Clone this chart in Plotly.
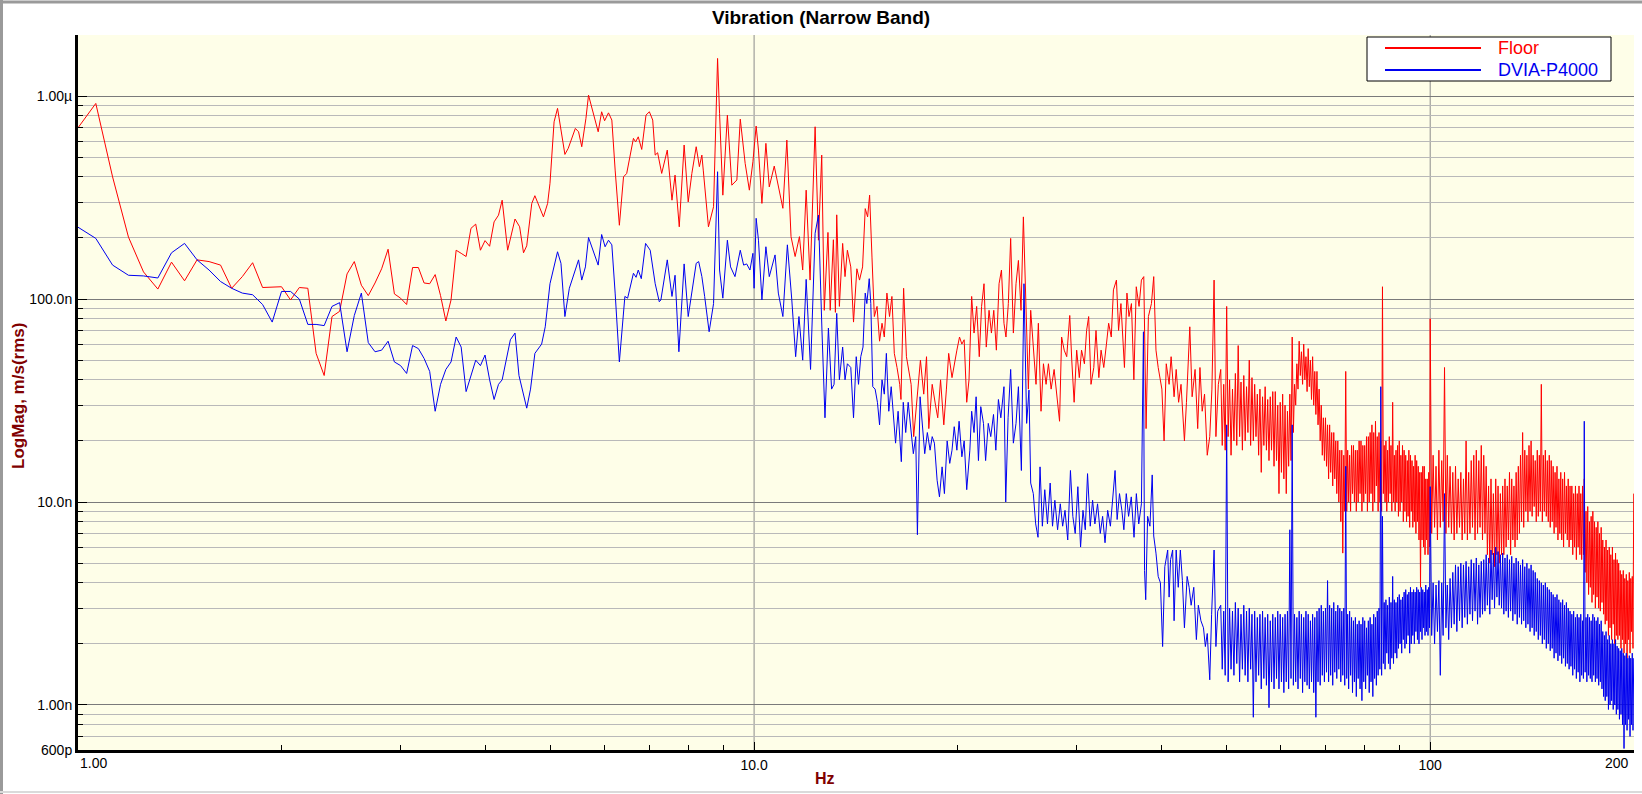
import numpy as np
import plotly.graph_objects as go

# analyser bin spacing (Hz) for the evenly sampled stretches
BIN_LOW = 0.0625
BIN_HI_A = 0.25
BIN_HI_B = 0.5

# all magnitudes below are in nm/s (rms); scaled at the end

# 1.00 .. 4.19 Hz, every bin
floor_low = [698, 920, 400, 202, 136, 112, 152, 123, 156, 153,
             147, 113, 129, 151, 114, 115, 115, 99, 114, 113,
             54, 42, 82, 87, 133, 153, 117, 104, 120, 141,
             176, 106, 101, 94, 143, 143, 120, 119, 132, 104,
             78, 99, 174, 168, 162, 223, 234, 174, 194, 182,
             240, 259]
dvia_low = [226, 199, 147, 131, 130, 127, 169, 188, 156, 139,
            122, 113, 107, 105, 94, 77, 109, 109, 100, 75,
            75, 74, 92, 96, 55, 83, 107, 61, 55, 56,
            62, 49, 47, 43, 59, 57, 51, 44, 28, 38,
            45, 49, 65, 58, 35, 42, 50, 47, 53, 40,
            32, 38]

# 4.2 .. 13.3 Hz, peaks and troughs
floor_mid_f = [4.24, 4.32, 4.43, 4.50, 4.56, 4.61, 4.69, 4.74, 4.88, 4.95,
               4.99, 5.06, 5.12, 5.25, 5.31, 5.44, 5.50, 5.56, 5.64, 5.69,
               5.77, 5.88, 5.95, 6.01, 6.09, 6.16, 6.23, 6.32, 6.41, 6.48,
               6.63, 6.68, 6.74, 6.82, 6.92, 7.00, 7.08, 7.14, 7.20, 7.30,
               7.44, 7.56, 7.64, 7.75, 7.88, 7.99, 8.09, 8.21, 8.30, 8.37,
               8.41, 8.56, 8.71, 8.83, 8.89, 8.99, 9.13, 9.27, 9.43, 9.54,
               9.70, 9.84, 9.96, 10.07, 10.15, 10.27, 10.41, 10.53, 10.71, 10.86,
               11.03, 11.18, 11.34, 11.50, 11.67, 11.80, 11.94, 12.10, 12.31, 12.45,
               12.59, 12.70, 12.86, 12.96, 13.10, 13.19, 13.25]
floor_mid = [307, 174, 248, 227, 169, 183, 296, 323, 254, 296,
             372, 747, 870, 516, 553, 693, 667, 563, 777, 1011,
             837, 667, 837, 756, 827, 762, 432, 231, 400, 416,
             619, 595, 630, 546, 806, 837, 762, 512, 526, 416,
             542, 307, 408, 227, 574, 301, 416, 563, 449, 512,
             432, 227, 285, 1533, 822, 325, 806, 364, 386, 770,
             466, 344, 475, 712, 542, 296, 585, 357, 452, 357,
             280, 607, 203, 162, 203, 139, 344, 124, 706, 195,
             512, 88, 213, 88, 196, 86, 260]

dvia_mid_f = [4.24, 4.36, 4.43, 4.49, 4.56, 4.61, 4.67, 4.74, 4.85, 4.91,
              4.99, 5.12, 5.18, 5.25, 5.33, 5.50, 5.56, 5.63, 5.69, 5.79,
              5.88, 5.95, 6.02, 6.09, 6.16, 6.23, 6.32, 6.44, 6.50, 6.63,
              6.69, 6.74, 6.81, 6.91, 7.02, 7.14, 7.24, 7.28, 7.44, 7.56,
              7.64, 7.74, 7.88, 7.99, 8.09, 8.21, 8.28, 8.37, 8.45, 8.58,
              8.71, 8.83, 8.89, 8.99, 9.13, 9.23, 9.37, 9.54, 9.65, 9.75,
              9.86, 9.96, 10.00, 10.07, 10.15, 10.27, 10.41, 10.53, 10.74, 10.86,
              11.03, 11.20, 11.37, 11.52, 11.65, 11.80, 11.94, 12.12, 12.31, 12.45,
              12.60, 12.73, 12.88, 13.02, 13.13, 13.25]
dvia_mid = [40, 63, 68, 42, 34, 29, 36, 54, 60, 73,
            119, 171, 150, 82, 113, 156, 124, 144, 201, 168,
            147, 208, 181, 195, 185, 107, 49, 103, 101, 134,
            128, 139, 126, 188, 174, 119, 97, 99, 156, 103,
            131, 55, 149, 82, 111, 150, 153, 129, 103, 69,
            95, 424, 139, 101, 195, 144, 129, 174, 147, 149,
            139, 168, 113, 250, 195, 99, 181, 129, 165, 107,
            82, 185, 99, 52, 82, 50, 125, 45, 211, 259,
            70, 26, 72, 36, 38, 85]

# 13.4 .. 48.6 Hz
floor_c_f = [13.37, 13.52, 13.63, 13.74, 13.90, 14.03, 14.19, 14.32, 14.47, 14.60,
             14.72, 14.82, 14.94, 15.06, 15.20, 15.33, 15.46, 15.58, 15.72, 15.86,
             15.99, 16.12, 16.27, 16.42, 16.49, 16.64, 16.80, 16.93, 17.07, 17.22,
             17.42, 17.62, 17.82, 17.99, 18.13, 18.34, 18.55, 18.69, 18.87, 19.08,
             19.25, 19.40, 19.62, 19.77, 19.95, 20.13, 20.29, 20.45, 20.63, 20.79,
             20.98, 21.15, 21.34, 21.53, 21.70, 21.88, 22.05, 22.26, 22.44, 22.62,
             22.82, 23.03, 23.22, 23.42, 23.58, 23.77, 23.96, 24.18, 24.40, 24.60,
             24.82, 25.02, 25.25, 25.45, 25.65, 25.89, 26.12, 26.33, 26.57, 26.79,
             27.03, 27.25, 27.50, 27.78, 28.00, 28.30, 28.50, 28.75, 29.00, 29.30,
             29.50, 29.74, 30.00, 30.27, 30.50, 30.80, 31.03, 31.25, 31.50, 31.80,
             32.04, 32.35, 32.60, 32.90, 33.20, 33.45, 33.75, 34.00, 34.35, 34.60,
             34.88, 35.10, 35.30, 35.60, 35.85, 36.15, 36.45, 36.75, 37.10, 37.40,
             37.70, 38.00, 38.30, 38.70, 39.00, 39.30, 39.60, 40.10, 40.40, 40.70,
             41.10, 41.38, 41.80, 42.10, 42.45, 42.80, 43.30, 43.60, 44.10, 44.45,
             44.90, 45.30, 45.65, 46.00, 46.37, 46.80, 47.20, 47.55, 47.90, 48.20,
             48.60]
floor_c = [92, 188, 129, 174, 144, 77, 141, 124, 144, 279,
           254, 325, 161, 82, 92, 62, 76, 65, 107, 82,
           103, 54, 46, 38, 32, 113, 52, 45, 38, 21,
           32, 50, 34, 52, 23, 38, 30, 26, 40, 24,
           36, 54, 41, 48, 56, 65, 60, 63, 31, 40,
           103, 68, 92, 52, 92, 119, 58, 88, 68, 88,
           56, 119, 139, 76, 65, 95, 199, 68, 119, 155,
           88, 254, 82, 36, 88, 56, 38, 76, 28, 48,
           38, 48, 36, 45, 36, 25, 65, 56, 52, 83,
           50, 31, 56, 41, 56, 48, 70, 82, 38, 46,
           70, 41, 56, 46, 60, 76, 65, 111, 124, 70,
           95, 65, 46, 107, 82, 95, 40, 115, 92, 124,
           129, 23, 82, 95, 129, 56, 46, 36, 20, 48,
           38, 52, 33, 45, 31, 38, 20, 31, 73, 33,
           45, 23, 46, 28, 34, 17, 21, 36, 124, 21,
           38]

dvia_c_f = [13.37, 13.52, 13.63, 13.74, 13.90, 14.03, 14.16, 14.27, 14.38, 14.49,
            14.60, 14.68, 14.80, 14.88, 14.98, 15.10, 15.22, 15.33, 15.46, 15.58,
            15.69, 15.82, 15.95, 16.10, 16.19, 16.33, 16.51, 16.62, 16.76, 16.90,
            17.05, 17.20, 17.34, 17.44, 17.60, 17.74, 17.88, 18.04, 18.21, 18.34,
            18.48, 18.65, 18.80, 18.97, 19.12, 19.30, 19.47, 19.62, 19.77, 19.95,
            20.10, 20.29, 20.45, 20.63, 20.85, 20.98, 21.15, 21.30, 21.47, 21.64,
            21.84, 22.00, 22.20, 22.39, 22.60, 22.78, 22.98, 23.17, 23.42, 23.56,
            23.75, 23.96, 24.18, 24.40, 24.60, 24.85, 25.07, 25.30, 25.50, 25.65,
            25.88, 26.09, 26.30, 26.48, 26.69, 26.91, 27.16, 27.41, 27.63, 27.85,
            28.11, 28.37, 28.60, 28.83, 29.10, 29.37, 29.61, 29.85, 30.12, 30.40,
            30.65, 30.89, 31.13, 31.42, 31.67, 31.92, 32.21, 32.51, 32.77, 33.04,
            33.34, 33.65, 33.92, 34.19, 34.43, 34.71, 34.99, 35.23, 35.52, 35.80,
            36.13, 36.47, 36.76, 37.06, 37.40, 37.66, 37.80, 37.95, 38.20, 38.50,
            38.80, 39.00, 39.30, 39.60, 39.90, 40.20, 40.50, 40.90, 41.10, 41.30,
            41.60, 41.80, 42.10, 42.40, 42.70, 43.00, 43.30, 43.70, 44.00, 44.30,
            44.70, 45.10, 45.40, 45.80, 46.20, 46.50, 46.80, 47.20, 47.50, 47.90,
            48.20, 48.50]
dvia_c = [40, 58, 40, 48, 46, 26, 52, 38, 52, 58,
          107, 95, 126, 95, 37, 36, 31, 24, 40, 34,
          54, 28, 37, 26, 19.5, 28, 15.8, 31, 22, 31,
          23.5, 17.3, 21, 6.9, 33, 24.4, 17.3, 22, 18, 21,
          19.5, 12.8, 10.6, 14.9, 11, 20, 15.5, 18, 23.5, 18,
          25, 16.7, 20, 11.5, 18, 28, 22, 33, 16, 29.5,
          24.4, 16, 24.4, 21, 27, 18, 32, 26, 37, 10,
          26, 45, 19.5, 24.4, 37, 14.3, 119, 24.4, 35.6, 12.4,
          11, 7.8, 6.7, 14.9, 7.6, 11.5, 7.8, 12.4, 7.6, 10.2,
          7.3, 9.8, 7.6, 9.1, 6.5, 14.3, 8.5, 7.0, 11.9, 6.0,
          9.1, 7.3, 13.8, 7.6, 10.2, 7.8, 9.8, 7.0, 8.5, 6.3,
          9.1, 7.6, 10.6, 14.3, 8.2, 11, 9.1, 7.3, 11, 8.5,
          10.6, 6.7, 11, 7.8, 9.8, 69, 4.6, 3.3, 8.5, 7.6,
          13.6, 6.8, 5.6, 4.3, 4.0, 1.94, 4.8, 5.8, 3.4, 5.2,
          5.8, 2.6, 5.8, 3.8, 5.8, 4.1, 2.4, 4.3, 3.8, 3.1,
          3.8, 2.1, 3.1, 2.6, 2.4, 1.94, 2.25, 1.33, 2.8, 5.8,
          1.94, 2.9]

# 49.00 .. 99.75 Hz: band tops on the half-Hz bins, band bottoms on the quarter bins
floor_hi_a_top = [45, 38, 92, 40, 36, 43, 59, 39, 42, 37,
                  50, 41, 38, 34, 36, 33, 37, 32, 33, 35,
                  35, 30, 31, 34, 30, 28, 34, 65, 38, 48,
                  62, 55, 60, 52, 57, 50, 52, 44, 44, 36,
                  30, 26, 26, 24, 24, 22, 22, 20, 20, 18,
                  18, 17, 44, 18, 17, 19, 19, 18, 18, 20,
                  20, 19, 19, 21, 21, 22, 24, 22, 25, 21,
                  22, 20, 115, 19, 20, 18, 21, 19, 31, 17,
                  18, 19, 20, 17, 19, 18, 17, 16, 18, 17,
                  16, 15, 17, 16, 15, 14, 14, 15, 15, 13,
                  13, 14]
floor_hi_a_bot = [19, 18, 21, 17, 20, 19, 21, 18, 20, 22,
                  19, 20, 21, 17, 14, 19, 18, 16, 18, 15,
                  16, 11, 14, 13, 11, 15, 16, 22, 30, 36,
                  42, 38, 40, 35, 37, 32, 30, 27, 24, 20,
                  17, 16, 15, 13, 14, 12, 13, 11, 10, 8,
                  5.6, 9, 9, 10, 9, 11, 10, 9, 10, 11,
                  9, 10, 11, 9, 10, 11, 9, 10, 12, 9,
                  10, 9, 11, 10, 9, 10, 11, 9, 10, 9,
                  10, 8.5, 9, 10, 8, 9, 8, 8.5, 7.5, 9,
                  7.5, 8, 7, 8, 6.5, 3.8, 6.5, 6, 5.5, 6.5,
                  5.5, 6]
dvia_hi_a_top = [3.1, 2.9, 24, 3.0, 2.9, 3.2, 3.0, 2.8, 3.1, 2.9,
                 3.0, 2.8, 2.9, 2.7, 2.8, 2.9, 2.7, 2.8, 2.6, 2.8,
                 2.7, 2.9, 2.8, 2.7, 2.8, 2.9, 7.3, 24, 2.8, 2.7,
                 2.9, 2.8, 2.7, 2.9, 2.8, 2.6, 2.8, 2.7, 2.9, 3.0,
                 3.1, 2.9, 3.0, 4.1, 3.1, 3.0, 3.2, 2.9, 3.1, 3.0,
                 2.9, 3.0, 15, 2.8, 2.9, 2.7, 2.6, 2.7, 2.5, 2.6,
                 2.5, 2.7, 2.6, 2.4, 2.6, 2.7, 2.5, 2.8, 2.7, 2.9,
                 3.0, 37, 8.5, 3.2, 3.3, 3.1, 3.4, 3.2, 4.3, 3.3,
                 3.2, 3.4, 3.5, 3.3, 3.4, 3.6, 3.7, 3.5, 3.6, 3.8,
                 3.6, 3.7, 3.6, 3.8, 3.7, 3.6, 3.8, 3.7, 3.6, 3.9,
                 3.7, 3.8]
dvia_hi_a_bot = [1.5, 1.4, 1.3, 1.5, 1.4, 1.6, 1.3, 1.5, 1.4, 1.3,
                 1.5, 0.87, 1.3, 1.4, 1.2, 1.35, 1.25, 0.97, 1.3, 1.2,
                 1.35, 1.2, 1.3, 1.15, 1.3, 1.2, 1.35, 1.25, 1.3, 1.2,
                 1.35, 1.15, 1.3, 1.25, 1.2, 1.3, 1.15, 0.87, 1.3, 1.25,
                 1.4, 1.3, 1.45, 1.3, 1.4, 1.25, 1.45, 1.35, 1.5, 1.3,
                 1.4, 1.25, 1.35, 1.2, 1.4, 1.15, 1.3, 1.1, 1.35, 1.2,
                 1.05, 1.3, 1.2, 1.4, 1.15, 1.3, 1.1, 1.35, 1.25, 1.4,
                 1.5, 1.4, 1.6, 1.5, 1.8, 1.6, 1.5, 1.7, 1.6, 1.8,
                 1.7, 1.9, 2.0, 1.8, 2.1, 1.9, 2.0, 2.2, 1.8, 2.0,
                 2.2, 2.0, 2.3, 2.1, 2.0, 2.3, 2.1, 2.4, 2.2, 2.3,
                 2.2, 2.4]

# 100 .. 200 Hz: band tops on whole Hz, band bottoms on the half-Hz bins
floor_hi_b_top = [80, 17, 15, 18, 16, 46, 17, 15, 14, 15,
                  13, 14, 13, 20, 14, 16, 17, 18, 16, 19,
                  17, 15, 12, 13, 11, 13, 12, 11, 12, 13,
                  12, 14, 13, 12, 14, 15, 17, 22, 18, 17,
                  19, 20, 17, 16, 18, 17, 38, 17, 18, 16,
                  17, 16, 15, 14, 15, 13, 14, 13, 14, 12,
                  13, 12, 12, 11, 12, 11, 12, 11, 12, 13,
                  9, 9.5, 8, 8.5, 9, 8, 7.5, 8, 7, 7.5,
                  6.5, 6, 6.5, 5.8, 6, 5.5, 6, 5.2, 5.6, 5.2,
                  5, 4.6, 4.4, 4.6, 4.2, 4.4, 4.1, 4.5, 4.2, 4.3,
                  11]
floor_hi_b_bot = [7, 7.5, 6.5, 7.5, 8, 7, 7.5, 7, 6.5, 7,
                  7.5, 6.5, 7, 6.5, 7, 7.5, 6.5, 7, 7.5, 6.5,
                  7, 5.5, 5, 5.5, 4.8, 5.5, 5, 5.5, 5.5, 6,
                  6.5, 5.5, 6.5, 6, 6.5, 7, 8, 7.5, 9, 8,
                  9, 8.5, 9.5, 8, 8.5, 9, 8, 9, 8.5, 8,
                  7.5, 8, 7, 7.5, 6.5, 7, 6.5, 6, 7, 6.5,
                  6, 6.5, 5.5, 6, 5.2, 6, 5.5, 5.2, 5.5, 4.5,
                  4, 3.5, 3.8, 3.2, 3.5, 3, 3.4, 3, 2.9, 3.2,
                  2.8, 2.5, 2.6, 2.2, 2.4, 2.1, 2.5, 2, 2.2, 2.1,
                  2.2, 1.9, 2.1, 1.8, 2, 1.7, 2.1, 1.8, 2.3, 1.9]
dvia_hi_b_top = [11.9, 4.0, 3.9, 4.1, 4.0, 11, 3.9, 4.2, 4.5, 4.9,
                 4.8, 5.0, 4.9, 5.1, 4.8, 5.2, 5.0, 5.3, 4.9, 5.1,
                 5.2, 5.5, 5.3, 5.8, 5.6, 6.0, 5.7, 5.5, 5.6, 5.3,
                 5.5, 5.2, 5.4, 5.0, 5.3, 5.1, 4.9, 5.2, 4.8, 5.0,
                 4.7, 4.9, 4.6, 4.5, 4.2, 4.1, 4.0, 3.9, 4.0, 3.8,
                 3.7, 3.6, 3.5, 3.4, 3.5, 3.3, 3.2, 3.3, 3.1, 3.2,
                 3.0, 2.9, 2.8, 2.9, 2.7, 2.8, 2.7, 2.8, 2.6, 25,
                 2.7, 2.8, 2.7, 2.6, 2.8, 2.7, 2.6, 2.7, 2.5, 2.6,
                 2.3, 2.2, 2.3, 2.1, 2.2, 2.0, 2.1, 2.0, 2.1, 1.95,
                 1.9, 1.85, 1.9, 1.8, 1.75, 1.8, 1.7, 1.75, 1.7, 1.8,
                 1.7]
dvia_hi_b_bot = [2.2, 2.0, 2.3, 1.4, 2.2, 2.4, 2.1, 2.4, 2.5, 2.3,
                 2.6, 2.4, 2.7, 2.5, 2.8, 2.6, 2.9, 2.5, 2.7, 2.8,
                 2.9, 3.1, 2.8, 3.3, 3.0, 3.4, 3.1, 3.0, 2.8, 2.9,
                 2.7, 2.9, 2.6, 2.8, 2.5, 2.7, 2.5, 2.6, 2.4, 2.5,
                 2.3, 2.4, 2.2, 2.3, 2.1, 2.2, 2.0, 2.1, 1.9, 2.0,
                 1.85, 1.9, 1.7, 1.8, 1.65, 1.75, 1.6, 1.7, 1.55, 1.6,
                 1.5, 1.55, 1.4, 1.5, 1.35, 1.45, 1.3, 1.4, 1.35, 1.45,
                 1.3, 1.4, 1.35, 1.3, 1.4, 1.3, 1.35, 1.25, 1.3, 1.2,
                 1.1, 1.05, 1.1, 0.95, 1.0, 1.05, 0.95, 1.0, 0.9, 0.95,
                 0.85, 0.9, 0.8, 0.61, 0.8, 0.75, 0.85, 0.7, 0.8, 0.75]

y_tick_vals = [6e-10, 1e-9, 1e-8, 1e-7, 1e-6]
y_tick_text = ["600p", "1.00n", "10.0n", "100.0n", "1.00\u00b5"]
x_tick_vals = [1, 10, 100, 200]
x_tick_text = ["1.00", "10.0", "100", "200"]


def interleave(tops, bots):
    out = np.empty(len(tops) + len(bots))
    out[0::2] = tops
    out[1::2] = bots
    return out


def stitch(*parts):
    return np.concatenate([np.asarray(p, dtype=float) for p in parts])


freq_low = np.arange(1.0, 4.25, BIN_LOW)
freq_hi_a = np.arange(49.0, 100.0, BIN_HI_A)
freq_hi_b = np.arange(100.0, 200.5, BIN_HI_B)

floor_hi_a = interleave(floor_hi_a_top, floor_hi_a_bot)
dvia_hi_a = interleave(dvia_hi_a_top, dvia_hi_a_bot)
floor_hi_b = interleave(floor_hi_b_top, floor_hi_b_bot)
dvia_hi_b = interleave(dvia_hi_b_top, dvia_hi_b_bot)

assert len(freq_low) == len(floor_low) == len(dvia_low)
assert len(floor_mid_f) == len(floor_mid) and len(dvia_mid_f) == len(dvia_mid)
assert len(floor_c_f) == len(floor_c) and len(dvia_c_f) == len(dvia_c)
assert len(freq_hi_a) == len(floor_hi_a) == len(dvia_hi_a)
assert len(freq_hi_b) == len(floor_hi_b) == len(dvia_hi_b)

floor_f = stitch(freq_low, floor_mid_f, floor_c_f, freq_hi_a, freq_hi_b)
floor_v = stitch(floor_low, floor_mid, floor_c, floor_hi_a, floor_hi_b) * 1e-9
dvia_f = stitch(freq_low, dvia_mid_f, dvia_c_f, freq_hi_a, freq_hi_b)
dvia_v = stitch(dvia_low, dvia_mid, dvia_c, dvia_hi_a, dvia_hi_b) * 1e-9

# page geometry (px)
W, H = 1642, 794
ML, MR, MT, MB = 78, 8, 35, 44
PW, PH = W - ML - MR, H - MT - MB


def px(x):
    return (x - ML) / PW


def py(y):
    return (H - MB - y) / PH


RED = "#FF0000"
BLUE = "#0000F0"
DARK_RED = "#800000"
FONT = "Liberation Sans, Arial, sans-serif"

x_max = 200.0
x_top = np.log10(x_max) + 0.0004
y_min, y_max = 6e-10, 2e-6

fig = go.Figure()
fig.add_trace(go.Scatter(x=floor_f, y=floor_v, mode="lines", name="Floor",
                         line=dict(color=RED, width=1)))
fig.add_trace(go.Scatter(x=dvia_f, y=dvia_v, mode="lines", name="DVIA-P4000",
                         line=dict(color=BLUE, width=1)))

minor_y = [m * 10.0 ** e for e in range(-10, -5) for m in range(2, 10)
           if y_min < m * 10.0 ** e < y_max]
minor_x = [m * 10.0 ** e for e in range(0, 2) for m in range(2, 10)]

# the end labels (1.00 and 200) sit flush with the plot edges, so they are
# placed as annotations; the axis itself labels the inner decades
axis_text = [t if 1 < v < x_max else "" for v, t in zip(x_tick_vals, x_tick_text)]

fig.update_xaxes(type="log", range=[0, x_top],
                 tickmode="array", tickvals=x_tick_vals, ticktext=axis_text,
                 ticks="inside", ticklen=8, tickcolor="black", tickwidth=1,
                 showgrid=False, zeroline=False,
                 showline=True, linecolor="black", linewidth=3,
                 tickfont=dict(size=14, color="black"),
                 minor=dict(tickmode="array", tickvals=minor_x, ticks="inside",
                            ticklen=5, tickcolor="black", showgrid=False))
fig.update_yaxes(type="log", range=[np.log10(y_min), np.log10(y_max)],
                 tickmode="array", tickvals=y_tick_vals, ticktext=y_tick_text,
                 ticks="inside", ticklen=9, tickcolor="black", tickwidth=1,
                 showgrid=True, gridcolor="#7A7A7A", gridwidth=1, zeroline=False,
                 showline=True, linecolor="black", linewidth=3,
                 tickfont=dict(size=14, color="black"),
                 minor=dict(tickmode="array", tickvals=minor_y, ticks="inside",
                            ticklen=5, tickcolor="black",
                            showgrid=True, gridcolor="#B9B9B9", gridwidth=1))

shapes = []
# vertical grid only at the decades inside the plot
for f in (10, 100):
    xf = np.log10(f) / x_top
    shapes.append(dict(type="line", xref="x domain", yref="y domain",
                       x0=xf, x1=xf, y0=0, y1=1, layer="below",
                       line=dict(color="#8C8C8C", width=1)))
# legend box with long line samples
shapes.append(dict(type="rect", xref="paper", yref="paper",
                   x0=px(1367), x1=px(1611), y0=py(81), y1=py(37),
                   fillcolor="white", line=dict(color="black", width=1)))
shapes.append(dict(type="line", xref="paper", yref="paper",
                   x0=px(1385), x1=px(1481), y0=py(48), y1=py(48),
                   line=dict(color=RED, width=2)))
shapes.append(dict(type="line", xref="paper", yref="paper",
                   x0=px(1385), x1=px(1481), y0=py(70), y1=py(70),
                   line=dict(color=BLUE, width=2)))
# window frame
shapes.append(dict(type="line", xref="paper", yref="paper",
                   x0=px(0), x1=px(W), y0=py(2), y1=py(2),
                   line=dict(color="#9A9A9A", width=3)))
shapes.append(dict(type="line", xref="paper", yref="paper",
                   x0=px(1.5), x1=px(1.5), y0=py(0), y1=py(H),
                   line=dict(color="#9A9A9A", width=3)))
shapes.append(dict(type="line", xref="paper", yref="paper",
                   x0=px(0), x1=px(W), y0=py(H - 2), y1=py(H - 2),
                   line=dict(color="#DADADA", width=2)))

annotations = [
    dict(text="<b>LogMag, m/s(rms)</b>", xref="paper", yref="paper",
         x=px(18), y=py(396), textangle=-90, showarrow=False,
         xanchor="center", yanchor="middle",
         font=dict(size=17, color=DARK_RED, family=FONT)),
    dict(text="<b>Hz</b>", xref="paper", yref="paper",
         x=px(825), y=py(778), showarrow=False,
         xanchor="center", yanchor="middle",
         font=dict(size=16, color=DARK_RED, family=FONT)),
    dict(text=x_tick_text[0], xref="paper", yref="paper",
         x=px(78), y=py(763), showarrow=False,
         xanchor="left", yanchor="middle",
         font=dict(size=14, color="black", family=FONT)),
    dict(text=x_tick_text[-1], xref="paper", yref="paper",
         x=px(1631), y=py(763), showarrow=False,
         xanchor="right", yanchor="middle",
         font=dict(size=14, color="black", family=FONT)),
    dict(text="Floor", xref="paper", yref="paper",
         x=px(1496), y=py(48), showarrow=False,
         xanchor="left", yanchor="middle",
         font=dict(size=18, color=RED, family=FONT)),
    dict(text="DVIA-P4000", xref="paper", yref="paper",
         x=px(1496), y=py(70), showarrow=False,
         xanchor="left", yanchor="middle",
         font=dict(size=18, color=BLUE, family=FONT)),
]

fig.update_layout(
    width=W, height=H,
    margin=dict(l=ML, r=MR, t=MT, b=MB),
    paper_bgcolor="white",
    plot_bgcolor="#FEFEE8",
    font=dict(family=FONT, color="black"),
    title=dict(text="<b>Vibration (Narrow Band)</b>", x=0.5, xref="container",
               y=1 - 17 / H, yref="container", xanchor="center", yanchor="middle",
               font=dict(size=19, color="black", family=FONT)),
    showlegend=False,
    shapes=shapes,
    annotations=annotations,
)

fig.write_html("out.html", config={"displayModeBar": False},
               post_script="document.body.style.margin='0';")
